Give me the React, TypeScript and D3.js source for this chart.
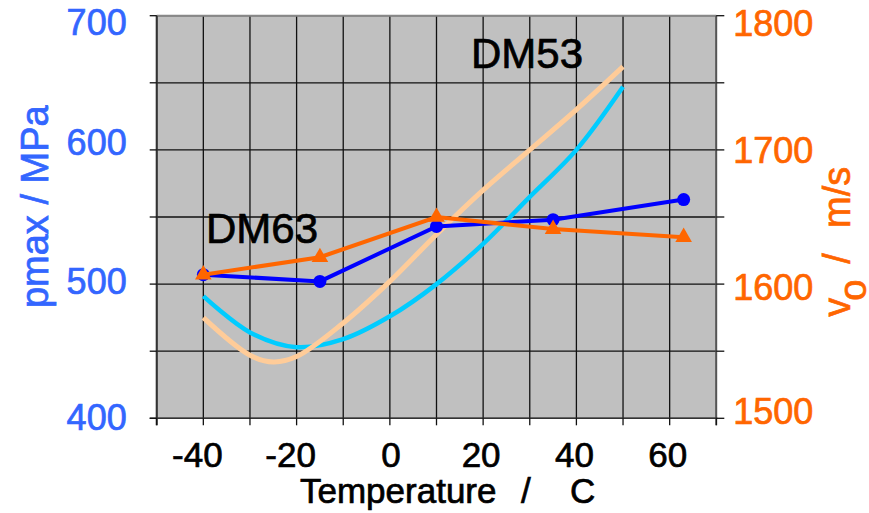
import * as d3 from 'd3';

// temperatures (C)
const tempsDM63 = [-40, -15, 10, 35, 63];
const pmaxDM63 = [507, 502, 543, 548, 563];
const v0DM63 = [1607, 1620, 1650, 1641, 1635];

const tempsDM53 = [-40, -30, -20, -10, 0, 10, 20, 30, 40, 50];
const pmaxDM53 = [491, 464, 453, 459, 476, 500, 530, 565, 600, 647];
const tempsDM53v = [-40, -30, -25, -20, -10, 0, 10, 20, 30, 40, 50];
const v0DM53 = [1575, 1547, 1542, 1546, 1571, 1602, 1637, 1670, 1700, 1730, 1762];

const xTicks = [-40, -20, 0, 20, 40, 60];
const xGrid = d3.range(-50, 71, 10);
const leftTicks = [400, 500, 600, 700];
const rightTicks = [1500, 1600, 1700, 1800];
const yGrid = d3.range(400, 701, 50);

// label nudges, the original labels are not evenly spaced
const leftNudge: Record<number, number> = { 400: 11.7, 500: 9.7, 600: 5.3, 700: 19.6 };
const rightNudge: Record<number, number> = { 1500: 5.7, 1600: 15.7, 1700: 12.7, 1800: 20.3 };

const FONT = "'Liberation Sans', Arial, sans-serif";
const BLUE_TXT = '#3366FF';
const ORANGE = '#FF6600';

export default function App() {
  const width = 869;
  const height = 513;
  const left = 156.7, right = 716.3, top = 15.7, bottom = 418.3;

  const x = d3.scaleLinear().domain([-50, 70]).range([left, right]);
  const yL = d3.scaleLinear().domain([400, 700]).range([bottom, top]);
  const yR = d3.scaleLinear().domain([1500, 1800]).range([bottom, top]);

  const lineL = (xs: number[], ys: number[], curve: any) =>
    d3.line<number>().x((_, i) => x(xs[i])).y((d) => yL(d)).curve(curve)(ys) || '';
  const lineR = (xs: number[], ys: number[], curve: any) =>
    d3.line<number>().x((_, i) => x(xs[i])).y((d) => yR(d)).curve(curve)(ys) || '';

  const tri = d3.symbol().type(d3.symbolTriangle).size(120)() || '';

  // slight outline so the text is as heavy as in the original
  const heavy = (c: string) => ({ fill: c, stroke: c, strokeWidth: 0.7 });

  return (
    <svg width={width} height={height} style={{ position: 'absolute', left: 0, top: 0 }} fontFamily={FONT}>
      <rect x={0} y={0} width={width} height={height} fill="#fff" />
      {/* plot area */}
      <rect x={left} y={top} width={right - left} height={bottom - top} fill="#C0C0C0" />
      {xGrid.map((t) => (
        <line key={'gx' + t} x1={x(t)} x2={x(t)} y1={top} y2={bottom} stroke="#111" strokeWidth={1.3} />
      ))}
      {yGrid.map((t) => (
        <line key={'gy' + t} x1={left} x2={right} y1={yL(t)} y2={yL(t)} stroke="#111" strokeWidth={1.3} />
      ))}
      <line x1={left} x2={right} y1={top} y2={top} stroke="#888" strokeWidth={2} />
      <line x1={right} x2={right} y1={top} y2={bottom + 7} stroke="#555" strokeWidth={1.8} />
      <line x1={left} x2={left} y1={top} y2={bottom + 7} stroke="#333" strokeWidth={2} />
      <line x1={left - 7} x2={right + 1} y1={bottom} y2={bottom} stroke="#333" strokeWidth={1.5} />

      {/* ticks */}
      {xGrid.map((t) => (
        <line key={'tx' + t} x1={x(t)} x2={x(t)} y1={bottom} y2={bottom + 7} stroke="#111" strokeWidth={1.3} />
      ))}
      {yGrid.map((t) => (
        <g key={'ty' + t}>
          <line x1={left - 7} x2={left} y1={yL(t)} y2={yL(t)} stroke="#111" strokeWidth={1.3} />
          <line x1={right} x2={right + 8} y1={yL(t)} y2={yL(t)} stroke="#111" strokeWidth={1.3} />
        </g>
      ))}

      {/* series */}
      <path d={lineL(tempsDM53, pmaxDM53, d3.curveCatmullRom)} fill="none" stroke="#00CCFF" strokeWidth={4.5} />
      <path d={lineR(tempsDM53v, v0DM53, d3.curveCatmullRom)} fill="none" stroke="#FFCC99" strokeWidth={5} />
      <path d={lineL(tempsDM63, pmaxDM63, d3.curveLinear)} fill="none" stroke="#0000FF" strokeWidth={4} />
      {tempsDM63.map((t, i) => (
        <circle key={'c' + t} cx={x(t)} cy={yL(pmaxDM63[i])} r={6.5} fill="#0000FF" />
      ))}
      <path d={lineR(tempsDM63, v0DM63, d3.curveLinear)} fill="none" stroke={ORANGE} strokeWidth={4} />
      {tempsDM63.map((t, i) => (
        <path key={'t' + t} d={tri} transform={`translate(${x(t)},${yR(v0DM63[i])})`} fill={ORANGE} />
      ))}

      {/* series labels */}
      <text x={471} y={68} fontSize={42} {...heavy('#000')}>DM53</text>
      <text x={206} y={243} fontSize={42} {...heavy('#000')}>DM63</text>

      {/* tick labels */}
      {xTicks.map((t) => (
        <text key={'lx' + t} x={x(t) + (t < 0 ? -6 : t === 0 ? 1 : -2)} y={466.7} fontSize={35} textAnchor="middle" {...heavy('#000')}>{t}</text>
      ))}
      {leftTicks.map((t) => (
        <text key={'ll' + t} x={126.7} y={yL(t) + leftNudge[t]} fontSize={36} textAnchor="end" {...heavy(BLUE_TXT)}>{t}</text>
      ))}
      {rightTicks.map((t) => (
        <text key={'lr' + t} x={733.3} y={yR(t) + rightNudge[t]} fontSize={36} textAnchor="start" {...heavy(ORANGE)}>{t}</text>
      ))}

      {/* axis titles */}
      <g fontSize={35} {...heavy('#000')}>
        <text x={300} y={503.3}>Temperature</text>
        <text x={521} y={503.3}>/</text>
        <text x={570} y={503.3}>C</text>
      </g>
      <text transform="translate(48.3,206.7) rotate(-90)" fontSize={38} textAnchor="middle" {...heavy(BLUE_TXT)}>pmax / MPa</text>
      <g transform="translate(850,316.7) rotate(-90)" fontSize={38} {...heavy(ORANGE)}>
        <text x={0} y={0}>v</text>
        <text x={16} y={15.5}>o</text>
        <text x={53} y={0}>/</text>
        <text x={88.7} y={0}>m/s</text>
      </g>
    </svg>
  );
}
